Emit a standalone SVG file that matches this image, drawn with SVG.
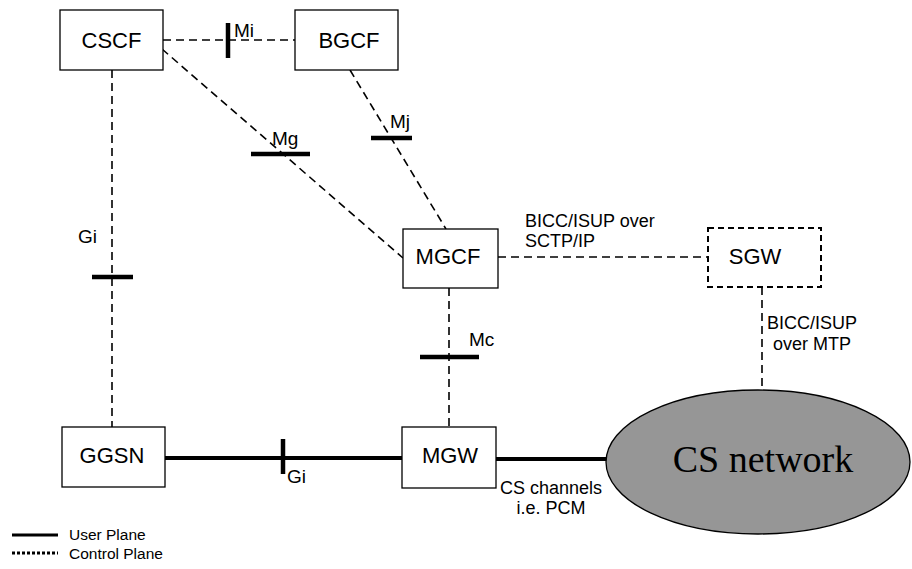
<svg xmlns="http://www.w3.org/2000/svg" width="912" height="569" viewBox="0 0 912 569">
<style>
.node{fill:#fff;stroke:#000;stroke-width:1.3}
.dnode{fill:#fff;stroke:#000;stroke-width:2;stroke-dasharray:6 4}
.nl{font-family:"Liberation Sans",Arial,sans-serif;font-size:22px;fill:#000;text-anchor:middle}
.il{font-family:"Liberation Sans",Arial,sans-serif;font-size:19px;fill:#000}
.sl{font-family:"Liberation Sans",Arial,sans-serif;font-size:18px;fill:#000}
.lg{font-family:"Liberation Sans",Arial,sans-serif;font-size:15.5px;fill:#000}
.ctl{fill:none;stroke:#000;stroke-width:1.6;stroke-dasharray:8 5}
.usr{fill:none;stroke:#000;stroke-width:4}
.bar{stroke:#000;stroke-width:4.5}
</style>
<g id="connectors">
<line class="ctl" x1="163" y1="40" x2="295" y2="40"/>
<line class="ctl" x1="162" y1="49" x2="403" y2="258"/>
<line class="ctl" x1="350" y1="70" x2="446" y2="229"/>
<line class="ctl" x1="112" y1="70" x2="112" y2="427"/>
<line class="ctl" x1="498" y1="257" x2="708" y2="257"/>
<line class="ctl" x1="449" y1="288" x2="449" y2="427"/>
<line class="ctl" x1="762" y1="287" x2="762" y2="391"/>
<line class="usr" x1="165" y1="458" x2="402" y2="458"/>
<line class="usr" x1="496" y1="459" x2="608" y2="459"/>
<line class="bar" x1="228" y1="23" x2="228" y2="58"/>
<line class="bar" x1="251" y1="154" x2="310" y2="154"/>
<line class="bar" x1="371" y1="138" x2="412" y2="138"/>
<line class="bar" x1="420" y1="357" x2="479" y2="357"/>
<line class="bar" x1="92" y1="277" x2="133" y2="277"/>
<line class="bar" x1="283" y1="439" x2="283" y2="474"/>
<text class="il" x="234" y="37">Mi</text>
<text class="il" x="272" y="145">Mg</text>
<text class="il" x="390" y="128">Mj</text>
<text class="il" x="469" y="346">Mc</text>
<text class="il" x="78" y="243">Gi</text>
<text class="il" x="287" y="483">Gi</text>
<text class="sl" x="525" y="227">BICC/ISUP over</text>
<text class="sl" x="525" y="247">SCTP/IP</text>
<text class="sl" x="812" y="329" text-anchor="middle">BICC/ISUP</text>
<text class="sl" x="812" y="350" text-anchor="middle">over MTP</text>
<text class="sl" x="551" y="494" text-anchor="middle">CS channels</text>
<text class="sl" x="551" y="514" text-anchor="middle">i.e. PCM</text>
</g>
<g id="CSCF"><rect class="node" x="60" y="10" width="103" height="60"/><text class="nl" x="111.5" y="48">CSCF</text></g>
<g id="BGCF"><rect class="node" x="295" y="10" width="103" height="60"/><text class="nl" x="349" y="48">BGCF</text></g>
<g id="MGCF"><rect class="node" x="403" y="229" width="95" height="59"/><text class="nl" x="448" y="264">MGCF</text></g>
<g id="SGW"><rect class="dnode" x="708" y="228" width="113" height="59"/><text class="nl" x="755" y="264">SGW</text></g>
<g id="GGSN"><rect class="node" x="62" y="427" width="103" height="60"/><text class="nl" x="112" y="463">GGSN</text></g>
<g id="MGW"><rect class="node" x="402" y="427" width="94" height="61"/><text class="nl" x="450" y="463">MGW</text></g>
<g id="CSnetwork"><ellipse cx="758" cy="462" rx="152" ry="72" fill="#969696" stroke="#000" stroke-width="1.3"/><text x="763" y="472" text-anchor="middle" font-family="'Liberation Serif','Times New Roman',serif" font-size="38" fill="#000">CS network</text></g>
<g id="legend">
<line x1="12" y1="535" x2="58" y2="535" stroke="#000" stroke-width="3"/>
<line x1="12" y1="553" x2="58" y2="553" stroke="#000" stroke-width="3" stroke-dasharray="3 2"/>
<text class="lg" x="69" y="540">User Plane</text>
<text class="lg" x="69" y="559">Control Plane</text>
</g>
</svg>
